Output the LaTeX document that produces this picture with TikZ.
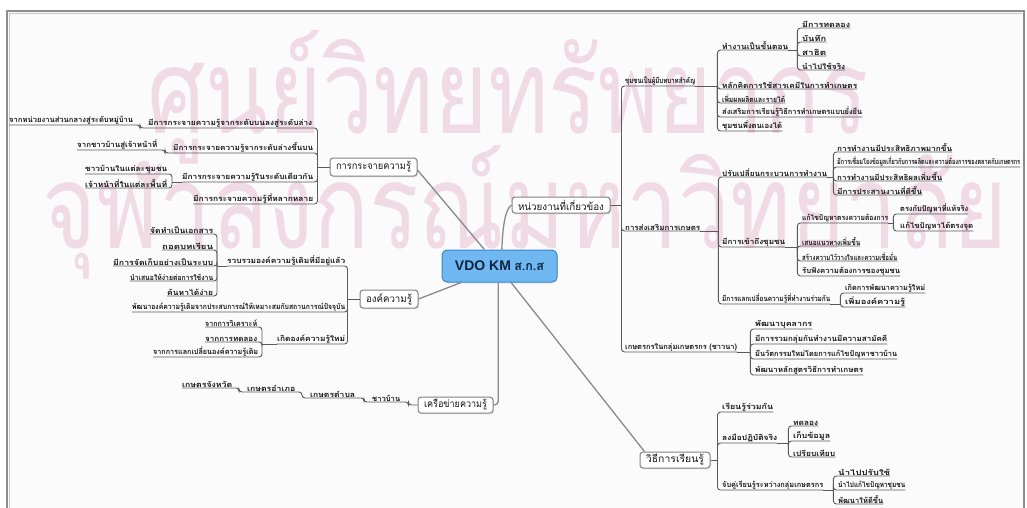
\documentclass[tikz,border=0pt]{standalone}
\usepackage{fontspec}
\usepackage{graphicx}
\usetikzlibrary{calc,shadows}
\newfontfamily\thai[Script=Thai]{Loma}
\newfontfamily\lsans{Liberation Sans}
\definecolor{wm}{RGB}{240,219,229}
\definecolor{conncol}{RGB}{90,90,90}
\definecolor{mainline}{RGB}{138,138,138}
\definecolor{txtcol}{RGB}{22,22,22}
\definecolor{vdofill}{RGB}{112,184,242}
\definecolor{vdoline}{RGB}{62,132,200}
\definecolor{vdotext}{RGB}{16,36,64}
\definecolor{framecol}{RGB}{140,140,140}
\definecolor{boxline}{RGB}{130,130,130}
\pgfdeclarelayer{bg}
\pgfsetlayers{bg,main}

% underlined subtopic: name, left x, right x, underline y, text
\newcommand\mmlabel[5]{%
  \pgfmathsetmacro\mmw{#3-#2}%
  \node[tp] (#1) at (#2,#4) {\resizebox{\mmw pt}{\height}{#5}};}
% framed main topic: name, x1, x2, y1, y2, text
\newcommand\mmtopic[6]{%
  \pgfmathsetmacro\mmbw{#3-#2}%
  \pgfmathsetmacro\mmbh{#5-#4}%
  \pgfmathsetmacro\mmcx{(#2+#3)/2}%
  \pgfmathsetmacro\mmcy{(#4+#5)/2}%
  \pgfmathsetmacro\mmtw{#3-#2-12}%
  \node[topic, minimum width=\mmbw pt, minimum height=\mmbh pt] (#1) at (\mmcx,\mmcy) {\resizebox{\mmtw pt}{\height}{#6}};}

\begin{document}
\begin{tikzpicture}[x=1pt,y=-1pt,
  tp/.style={anchor=south west, inner xsep=0pt, inner ysep=0.4pt, text=txtcol,
    font=\thai\bfseries\fontsize{7.5}{9}\selectfont},
  conn/.style={draw=conncol, line width=0.9pt, rounded corners=3pt},
  mainln/.style={draw=mainline, line width=1.3pt},
  topic/.style={draw=boxline, line width=1pt, fill=white, rounded corners=3pt,
    inner xsep=4pt, inner ysep=1pt, text=txtcol, font=\thai\fontsize{10}{12}\selectfont,
    drop shadow={opacity=0.18, shadow xshift=1pt, shadow yshift=-1.3pt}},
  vdo/.style={draw=vdoline, line width=1pt, fill=vdofill, rounded corners=5pt,
    text=vdotext, inner sep=2pt,
    drop shadow={opacity=0.18, shadow xshift=1pt, shadow yshift=-1.5pt}},
]
\useasboundingbox (0,0) rectangle (1027,507);

% ---------- central and main topics ----------
\node[vdo, minimum width=115pt, minimum height=32pt] (vdo) at (499.5,266)
  {{\lsans\bfseries\fontsize{14}{16}\selectfont VDO KM} {\thai\bfseries\fontsize{12.5}{14}\selectfont ส.ก.ส}};
\mmtopic{Abox}{330}{417}{158}{176}{การกระจายความรู้}
\mmtopic{Cbox}{512}{610}{197}{213}{หน่วยงานที่เกี่ยวข้อง}
\mmtopic{Bbox}{360}{418}{290}{308}{องค์ความรู้}
\mmtopic{Kbox}{418}{493}{397}{413}{เครือข่ายความรู้}
\mmtopic{Ebox}{640}{710}{452}{468}{วิธีการเรียนรู้}

% ---------- knowledge distribution ----------
\mmlabel{A1}{148}{312}{128}{มีการกระจายความรู้จากระดับบนลงสู่ระดับล่าง}
\mmlabel{A1a}{9}{133}{125}{จากหน่วยงานส่วนกลางสู่ระดับหมู่บ้าน}
\mmlabel{A2}{173}{313}{153}{มีการกระจายความรู้จากระดับล่างขึ้นบน}
\mmlabel{A2a}{77}{157}{150}{จากชาวบ้านสู่เจ้าหน้าที่}
\mmlabel{A3}{182}{313}{182}{มีการกระจายความรู้ในระดับเดียวกัน}
\mmlabel{A3a}{85}{167}{174}{ชาวบ้านในแต่ละชุมชน}
\mmlabel{A3b}{85}{167}{188}{เจ้าหน้าที่ในแต่ละพื้นที่}
\mmlabel{A4}{193}{313}{204}{มีการกระจายความรู้ที่หลากหลาย}

% ---------- body of knowledge ----------
\mmlabel{B1}{227}{345}{266}{รวบรวมองค์ความรู้เดิมที่มีอยู่แล้ว}
\mmlabel{B1a}{150}{213}{234}{จัดทำเป็นเอกสาร}
\mmlabel{B1b}{162}{213}{250}{ถอดบทเรียน}
\mmlabel{B1c}{113}{213}{266}{มีการจัดเก็บอย่างเป็นระบบ}
\mmlabel{B1d}{130}{213}{281}{นำเสนอให้ง่ายต่อการใช้งาน}
\mmlabel{B1e}{167}{213}{296}{ค้นหาได้ง่าย}
\mmlabel{B2}{132}{345}{312}{พัฒนาองค์ความรู้เดิมจากประสบการณ์ให้เหมาะสมกับสถานการณ์ปัจจุบัน}
\mmlabel{B3}{277}{345}{344}{เกิดองค์ความรู้ใหม่}
\mmlabel{B3a}{205}{257}{327}{จากการวิเคราะห์}
\mmlabel{B3b}{205}{257}{342}{จากการทดลอง}
\mmlabel{B3c}{153}{258}{357}{จากการแลกเปลี่ยนองค์ความรู้เดิม}

% ---------- knowledge network ----------
\mmlabel{K1}{372}{400}{402}{ชาวบ้าน}
\mmlabel{K2}{310}{355}{398}{เกษตรตำบล}
\mmlabel{K3}{247}{295}{392}{เกษตรอำเภอ}
\mmlabel{K4}{182}{232}{388}{เกษตรจังหวัด}

% ---------- related agencies ----------
\mmlabel{C1}{625}{695}{86}{ชุมชนเป็นผู้มีบทบาทสำคัญ}
\mmlabel{C1a}{722}{788}{50}{ทำงานเป็นขั้นตอน}
\mmlabel{C1a1}{802}{850}{28}{มีการทดลอง}
\mmlabel{C1a2}{802}{826}{42}{บันทึก}
\mmlabel{C1a3}{802}{826}{56}{สาธิต}
\mmlabel{C1a4}{802}{845}{70}{นำไปใช้จริง}
\mmlabel{C1b}{722}{857}{89}{หลักคิดการใช้สารเคมีในการทำเกษตร}
\mmlabel{C1c}{722}{785}{103}{เพิ่มผลผลิตและรายได้}
\mmlabel{C1d}{722}{862}{117}{ส่งเสริมการเรียนรู้วิธีการทำเกษตรแบบยั่งยืน}
\mmlabel{C1e}{722}{782}{131}{ชุมชนพึ่งตนเองได้}

\mmlabel{C2}{625}{700}{231}{การส่งเสริมการเกษตร}
\mmlabel{C2a}{722}{827}{177}{ปรับเปลี่ยนกระบวนการทำงาน}
\mmlabel{C2a1}{837}{952}{152}{การทำงานมีประสิทธิภาพมากขึ้น}
\mmlabel{C2a2}{837}{1020}{167}{มีการเชื่อมโยงข้อมูลเกี่ยวกับการผลิตและความต้องการของตลาดกับเกษตรกร}
\mmlabel{C2a3}{837}{942}{181}{การทำงานมีประสิทธิผลเพิ่มขึ้น}
\mmlabel{C2a4}{837}{922}{195}{มีการประสานงานที่ดีขึ้น}
\mmlabel{C2b}{722}{785}{247}{มีการเข้าถึงชุมชน}
\mmlabel{C2b1}{802}{888}{223}{แก้ไขปัญหาตรงความต้องการ}
\mmlabel{C2b1a}{900}{968}{214}{ตรงกับปัญหาที่แท้จริง}
\mmlabel{C2b1b}{900}{973}{231}{แก้ไขปัญหาได้ตรงจุด}
\mmlabel{C2b2}{802}{860}{246}{เสนอแนวทางเพิ่มขึ้น}
\mmlabel{C2b3}{802}{897}{261}{สร้างความไว้วางใจและความเชื่อมั่น}
\mmlabel{C2b4}{802}{900}{276}{รับฟังความต้องการของชุมชน}
\mmlabel{C2c}{722}{830}{304}{มีการแลกเปลี่ยนความรู้ที่ทำงานร่วมกัน}
\mmlabel{C2c1}{845}{925}{293}{เกิดการพัฒนาความรู้ใหม่}
\mmlabel{C2c2}{845}{905}{307}{เพิ่มองค์ความรู้}

\mmlabel{C3}{625}{737}{352}{เกษตรกรในกลุ่มเกษตรกร (ชาวนา)}
\mmlabel{C3a}{755}{812}{329}{พัฒนาบุคลากร}
\mmlabel{C3b}{755}{887}{344}{มีการรวมกลุ่มกันทำงานมีความสามัคคี}
\mmlabel{C3c}{755}{897}{359}{มีนวัตกรรมใหม่โดยการแก้ไขปัญหาชาวบ้าน}
\mmlabel{C3d}{755}{863}{375}{พัฒนาหลักสูตรวิธีการทำเกษตร}

% ---------- ways of learning ----------
\mmlabel{E1}{722}{773}{412}{เรียนรู้ร่วมกัน}
\mmlabel{E2}{722}{777}{443}{ลงมือปฏิบัติจริง}
\mmlabel{E2a}{793}{818}{426}{ทดลอง}
\mmlabel{E2b}{793}{830}{441}{เก็บข้อมูล}
\mmlabel{E2c}{793}{835}{457}{เปรียบเทียบ}
\mmlabel{E3}{722}{823}{490}{จับคู่เรียนรู้ระหว่างกลุ่มเกษตรกร}
\mmlabel{E3a}{838}{890}{476}{นำไปปรับใช้}
\mmlabel{E3b}{838}{905}{490}{นำไปแก้ไขปัญหาชุมชน}
\mmlabel{E3c}{838}{883}{504}{พัฒนาให้ดีขึ้น}

% ---------- branch connectors (they also underline the labels) ----------
% left: distribution
\draw[conn] (Abox.west) -- ++(-12,0) coordinate (av);
\foreach \n in {A1,A2,A3,A4} \draw[conn] (av) |- (\n.south west);
\draw[conn] (A1.south west) -- ++(-8,0) |- (A1a.south west);
\draw[conn] (A2.south west) -- ++(-8,0) |- (A2a.south west);
\draw[conn] (A3.south west) -- ++(-10,0) coordinate (a3v);
\foreach \n in {A3a,A3b} \draw[conn] (a3v) |- (\n.south west);

% left: body of knowledge
\draw[conn] (Bbox.west) -- ++(-12,0) coordinate (bv);
\foreach \n in {B1,B2,B3} \draw[conn] (bv) |- (\n.south west);
\draw[conn] (B1.south west) -- ++(-10,0) coordinate (b1v);
\foreach \n in {B1a,B1b,B1c,B1d,B1e} \draw[conn] (b1v) |- (\n.south west);
\draw[conn] (B3.south west) -- ++(-15,0) coordinate (b3v);
\foreach \n in {B3a,B3b,B3c} \draw[conn] (b3v) |- (\n.south west);

% left: network chain
\draw[conn] (Kbox.west) -- ++(-9,0) |- (K1.south west);
\draw[conn] (K1.south west) -- ++(-8,0) |- (K2.south west);
\draw[conn] (K2.south west) -- ++(-8,0) |- (K3.south west);
\draw[conn] (K3.south west) -- ++(-8,0) |- (K4.south west);

% right: related agencies
\draw[conn] (Cbox.east) -- ++(11,0) coordinate (cv);
\foreach \n in {C1,C2,C3} \draw[conn] (cv) |- (\n.south east);
\draw[conn] (C1.south east) -- ++(22,0) coordinate (c1v);
\foreach \n in {C1a,C1b,C1c,C1d,C1e} \draw[conn] (c1v) |- (\n.south east);
\draw[conn] (C1a.south east) -- ++(9,0) coordinate (c1av);
\foreach \n in {C1a1,C1a2,C1a3,C1a4} \draw[conn] (c1av) |- (\n.south east);
\draw[conn] (C2.south east) -- ++(18,0) coordinate (c2v);
\foreach \n in {C2a,C2b,C2c} \draw[conn] (c2v) |- (\n.south east);
\draw[conn] (C2a.south east) -- ++(6,0) coordinate (c2av);
\foreach \n in {C2a1,C2a2,C2a3,C2a4} \draw[conn] (c2av) |- (\n.south east);
\draw[conn] (C2b.south east) -- ++(12,0) coordinate (c2bv);
\foreach \n in {C2b1,C2b2,C2b3,C2b4} \draw[conn] (c2bv) |- (\n.south east);
\draw[conn] (C2b1.south east) -- ++(5,0) coordinate (c2b1v);
\foreach \n in {C2b1a,C2b1b} \draw[conn] (c2b1v) |- (\n.south east);
\draw[conn] (C2c.south east) -- ++(10,0) coordinate (c2cv);
\foreach \n in {C2c1,C2c2} \draw[conn] (c2cv) |- (\n.south east);
\draw[conn] (C3.south east) -- ++(13,0) coordinate (c3v);
\foreach \n in {C3a,C3b,C3c,C3d} \draw[conn] (c3v) |- (\n.south east);

% right: ways of learning
\draw[conn] (Ebox.east) -- ++(7,0) coordinate (ev);
\foreach \n in {E1,E2,E3} \draw[conn] (ev) |- (\n.south east);
\draw[conn] (E2.south east) -- ++(11,0) coordinate (e2v);
\foreach \n in {E2a,E2b,E2c} \draw[conn] (e2v) |- (\n.south east);
\draw[conn] (E3.south east) -- ++(10,0) coordinate (e3v);
\foreach \n in {E3a,E3b,E3c} \draw[conn] (e3v) |- (\n.south east);

% ---------- background: page, frame, watermark, main links ----------
\begin{pgfonlayer}{bg}
  \fill[white] (0,0) rectangle (1027,507);
  \fill[black!1.5] (7,11) rectangle (1024,515);
  \node[anchor=base west, inner sep=0pt, text=wm] (wm1) at (147,133)
    {\resizebox{722pt}{103pt}{\thai ศูนย์วิทยทรัพยากร}};
  \node[anchor=base west, inner sep=0pt, text=wm] (wm2) at (42,248)
    {\resizebox{965pt}{103pt}{\thai จุฬาลงกรณ์มหาวิทยาลัย}};
  \draw[framecol, line width=1.8pt] (7,515) -- (7,11) -- (1024,11) -- (1024,515);
  \draw[black!22, line width=0.8pt] (9.5,515) -- (9.5,13.5) -- (1021.5,13.5);

  \draw[mainln] ($(vdo.north west)!0.37!(vdo.north east)$) -- ($(Abox.east)+(0,3)$);
  \draw[mainln] ($(vdo.north west)!0.52!(vdo.north east)$)
     .. controls +(1,-25) and +(-6,4) .. (Cbox.west);
  \draw[mainln] ($(vdo.south west)!0.17!(vdo.south east)$) -- (Bbox.east);
  \draw[mainln, rounded corners=4pt] ($(vdo.south west)!0.49!(vdo.south east)$) |- (Kbox.east);
  \draw[mainln] ($(vdo.south west)!0.6!(vdo.south east)$) -- ($(Ebox.north west)+(5,0)$);
\end{pgfonlayer}
\end{tikzpicture}
\end{document}
